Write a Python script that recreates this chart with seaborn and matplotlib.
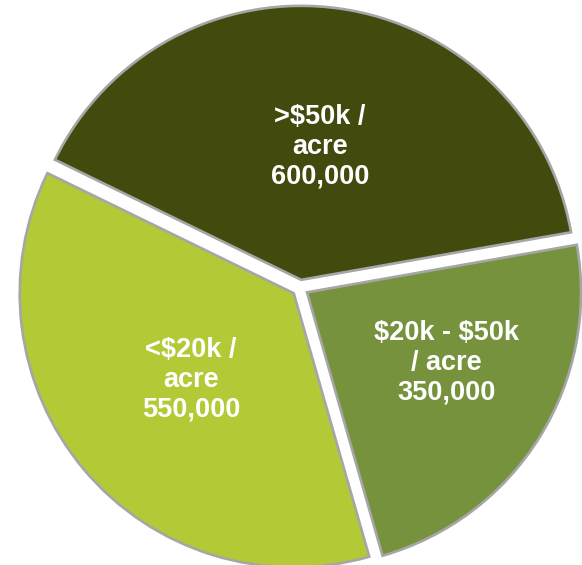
import numpy as np
import matplotlib
matplotlib.use("Agg")
import matplotlib.pyplot as plt
import seaborn as sns

# dados do gráfico
categorias = [">\\$50k /\nacre", "<\\$20k /\nacre", "\\$20k - \\$50k\n/ acre"]
valores = [600000, 550000, 350000]
cores = ["#434A0E", "#B3C935", "#76923C"]

sns.set_theme(style="white")
plt.rcParams['font.family'] = ['Liberation Sans', 'DejaVu Sans']

fig = plt.figure(figsize=(5.82, 5.65), dpi=100)
ax = fig.add_axes([0, 0, 1, 1])

wedges, _ = ax.pie(
    valores,
    colors=cores,
    startangle=10,
    counterclock=True,
    explode=[0.03] * len(valores),
    radius=1,
    wedgeprops=dict(edgecolor="#A6A6A6", linewidth=1.9),
)

# rótulos dentro das fatias (distância e ajuste de ângulo por fatia)
distancias = [0.52, 0.52, 0.6]
ajuste_ang = [0, 0, 5]
for w, cat, val, d, da in zip(wedges, categorias, valores, distancias, ajuste_ang):
    ang = np.deg2rad((w.theta1 + w.theta2) / 2 + da)
    ax.text(d * np.cos(ang), d * np.sin(ang), f"{cat}\n{val:,}",
            ha="center", va="center", color="white", fontsize=19.5,
            fontweight="bold", linespacing=1.2)

ax.set_xlim(-1.095, 1.029)
ax.set_ylim(-1.011, 1.051)
ax.set_aspect("auto")
ax.axis("off")

fig.savefig("out.png", dpi=100)
